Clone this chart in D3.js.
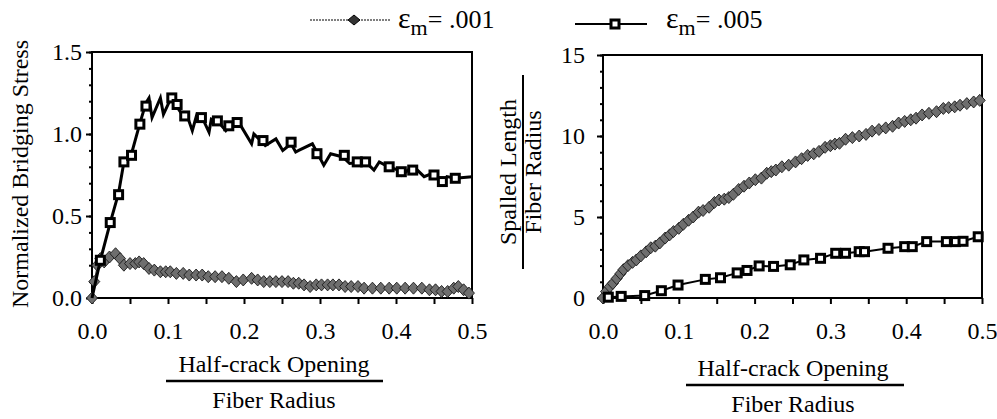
<!DOCTYPE html>
<html>
<head>
<meta charset="utf-8">
<script src="https://cdn.jsdelivr.net/npm/d3@7"></script>
<style>
body{margin:0;background:#fff}
</style>
</head>
<body>
<svg id="chart" width="997" height="419"></svg>
<script>
// left panel: normalized bridging stress, eps_m = .005 (line with sawtooth) and its square markers
const stressLine005 = [[0,0],[0.011,0.23],[0.024,0.46],[0.035,0.64],[0.042,0.83],[0.052,0.88],[0.063,1.065],[0.071,1.19],[0.075,1.22],[0.079,1.10],[0.090,1.22],[0.094,1.12],[0.105,1.23],[0.111,1.17],[0.120,1.11],[0.126,1.10],[0.132,1.02],[0.138,1.12],[0.144,1.11],[0.154,1.01],[0.157,1.09],[0.167,1.07],[0.176,1.02],[0.181,1.05],[0.192,1.08],[0.210,0.94],[0.213,1.00],[0.222,0.96],[0.228,0.93],[0.242,0.97],[0.251,0.90],[0.262,0.94],[0.268,0.89],[0.272,0.90],[0.290,0.94],[0.305,0.81],[0.314,0.88],[0.330,0.86],[0.339,0.82],[0.360,0.83],[0.371,0.78],[0.378,0.83],[0.390,0.80],[0.403,0.78],[0.408,0.75],[0.416,0.78],[0.428,0.78],[0.437,0.74],[0.448,0.76],[0.454,0.73],[0.461,0.70],[0.467,0.74],[0.478,0.73],[0.5,0.74]]
const stressMarks005 = [[0.011,0.23],[0.024,0.46],[0.035,0.63],[0.042,0.83],[0.052,0.87],[0.063,1.06],[0.071,1.17],[0.105,1.22],[0.112,1.18],[0.122,1.11],[0.144,1.10],[0.165,1.08],[0.180,1.05],[0.191,1.07],[0.225,0.96],[0.262,0.95],[0.296,0.88],[0.332,0.87],[0.349,0.83],[0.360,0.83],[0.391,0.80],[0.407,0.77],[0.422,0.78],[0.450,0.75],[0.461,0.71],[0.478,0.73]]
// left panel, eps_m = .001 (diamonds)
const stress001 = [[0,0],[0.003,0.10],[0.007,0.20],[0.011,0.24],[0.016,0.22],[0.023,0.25],[0.031,0.27],[0.037,0.24],[0.042,0.20],[0.050,0.21],[0.057,0.21],[0.062,0.22],[0.068,0.21],[0.075,0.18],[0.082,0.17],[0.090,0.16],[0.097,0.16],[0.103,0.16],[0.111,0.15],[0.120,0.15],[0.128,0.14],[0.137,0.14],[0.145,0.14],[0.153,0.13],[0.162,0.13],[0.171,0.13],[0.180,0.12],[0.190,0.10],[0.199,0.11],[0.210,0.12],[0.218,0.11],[0.226,0.10],[0.234,0.10],[0.242,0.10],[0.250,0.10],[0.258,0.10],[0.265,0.09],[0.272,0.09],[0.279,0.08],[0.287,0.07],[0.295,0.08],[0.302,0.08],[0.310,0.08],[0.317,0.08],[0.325,0.08],[0.333,0.07],[0.341,0.07],[0.350,0.07],[0.358,0.06],[0.369,0.06],[0.380,0.06],[0.391,0.06],[0.401,0.06],[0.412,0.06],[0.423,0.06],[0.434,0.06],[0.444,0.05],[0.452,0.05],[0.460,0.04],[0.468,0.04],[0.476,0.06],[0.482,0.07],[0.489,0.05],[0.496,0.03]]

// right panel: spalled length / fiber radius
const spall001 = [[0,0],[0.004,0.4],[0.009,0.7],[0.013,0.9],[0.018,1.2],[0.023,1.5],[0.027,1.75],[0.033,2.0],[0.039,2.2],[0.044,2.35],[0.050,2.6],[0.057,2.85],[0.063,3.1],[0.069,3.2],[0.075,3.4],[0.082,3.7],[0.088,3.9],[0.093,4.1],[0.100,4.3],[0.106,4.55],[0.113,4.8],[0.119,5.0],[0.126,5.3],[0.132,5.4],[0.140,5.6],[0.147,5.9],[0.153,6.05],[0.160,6.1],[0.166,6.2],[0.172,6.4],[0.179,6.7],[0.186,6.9],[0.193,7.1],[0.201,7.3],[0.209,7.4],[0.216,7.7],[0.222,7.8],[0.228,7.9],[0.236,8.1],[0.245,8.2],[0.254,8.4],[0.262,8.6],[0.270,8.8],[0.278,8.9],[0.285,9.05],[0.293,9.3],[0.300,9.4],[0.306,9.5],[0.312,9.55],[0.320,9.8],[0.329,9.9],[0.338,10.0],[0.347,10.1],[0.355,10.3],[0.364,10.4],[0.373,10.5],[0.382,10.6],[0.390,10.8],[0.398,10.9],[0.406,11.0],[0.413,11.1],[0.421,11.3],[0.430,11.4],[0.440,11.5],[0.449,11.7],[0.456,11.75],[0.464,11.8],[0.471,11.9],[0.480,12.0],[0.489,12.1],[0.497,12.2]]
const spall005 = [[0,0],[0.007,0.05],[0.024,0.1],[0.055,0.15],[0.077,0.45],[0.099,0.8],[0.135,1.15],[0.155,1.25],[0.177,1.55],[0.190,1.7],[0.206,1.98],[0.225,1.95],[0.247,2.05],[0.265,2.35],[0.287,2.45],[0.307,2.76],[0.320,2.76],[0.338,2.86],[0.345,2.86],[0.376,3.07],[0.398,3.17],[0.408,3.17],[0.427,3.48],[0.453,3.48],[0.465,3.48],[0.475,3.5],[0.495,3.78]]

const xTicks = [0, 0.1, 0.2, 0.3, 0.4, 0.5]
const stressTicks = [0, 0.5, 1.0, 1.5]
const spallTicks = [0, 5, 10, 15]

const FONT = "Liberation Serif, Tinos, Noto Serif, DejaVu Serif, FreeSerif, Times New Roman, Times, serif"
const svg = d3.select("#chart")

function panel(box, yMax, yTicks, yFmt, yMinorStep, yPad)
{
    let x = d3.scaleLinear().domain([0, 0.5]).range([box.left, box.right])
    let y = d3.scaleLinear().domain([0, yMax]).range([box.bottom, box.top])
    let g = svg.append("g")

    // frame
    g.append("rect")
        .attr("x", box.left).attr("y", box.top)
        .attr("width", box.right - box.left).attr("height", box.bottom - box.top)
        .attr("fill", "none").attr("stroke", "#000").attr("stroke-width", 2)

    // x axis, ticks every 0.05 hanging below
    let xAx = g.append("g").attr("transform", `translate(0,${box.bottom})`)
        .call(d3.axisBottom(x).tickValues(d3.range(0, 0.501, 0.05)).tickSize(6).tickFormat(""))
    xAx.select(".domain").remove()
    xAx.selectAll("line").attr("stroke-width", 2)
    g.append("g").attr("transform", `translate(0,${box.bottom})`)
        .call(d3.axisBottom(x).tickValues(xTicks).tickSize(0).tickPadding(24).tickFormat(d3.format(".1f")))
        .call(a => a.select(".domain").remove())
        .attr("font-family", FONT).attr("font-size", 24)
        .selectAll("text").attr("fill", "#000")

    // y axis: minor and major ticks
    let yMin = g.append("g").attr("transform", `translate(${box.left},0)`)
        .call(d3.axisLeft(y).tickValues(d3.range(0, yMax + 1e-9, yMinorStep)).tickSize(3).tickFormat(""))
    yMin.select(".domain").remove()
    yMin.selectAll("line").attr("stroke-width", 2)
    let yMaj = g.append("g").attr("transform", `translate(${box.left},0)`)
        .call(d3.axisLeft(y).tickValues(yTicks).tickSize(6).tickPadding(yPad).tickFormat(yFmt))
        .attr("font-family", FONT).attr("font-size", 24)
    yMaj.select(".domain").remove()
    yMaj.selectAll("line").attr("stroke-width", 2)
    yMaj.selectAll("text").attr("fill", "#000")

    return {x, y, g}
}

function drawSquares(p, data, lineWidth)
{
    p.g.append("path").datum(data)
        .attr("fill", "none").attr("stroke", "#000").attr("stroke-width", lineWidth)
        .attr("stroke-linejoin", "miter")
        .attr("d", d3.line().x(d => p.x(d[0])).y(d => p.y(d[1])))
}
function squareMarks(p, data)
{
    p.g.selectAll(null).data(data).enter().append("rect")
        .attr("x", d => p.x(d[0]) - 4).attr("y", d => p.y(d[1]) - 4)
        .attr("width", 8).attr("height", 8)
        .attr("fill", "#fff").attr("stroke", "#000").attr("stroke-width", 3)
}
function diamonds(p, data)
{
    p.g.append("path").datum(data)
        .attr("fill", "none").attr("stroke", "#222").attr("stroke-width", 1)
        .attr("d", d3.line().x(d => p.x(d[0])).y(d => p.y(d[1])))
    p.g.selectAll(null).data(data).enter().append("path")
        .attr("transform", d => `translate(${p.x(d[0])},${p.y(d[1])})`)
        .attr("d", "M0,-6L5.5,0L0,6L-5.5,0Z")
        .attr("fill", "#6e6e6e").attr("stroke", "#1a1a1a").attr("stroke-width", 0.9)
}

// left panel
let L = panel({left: 92, right: 472, top: 52, bottom: 298}, 1.5, stressTicks, d3.format(".1f"), 0.1, 4)
diamonds(L, stress001)
drawSquares(L, stressLine005, 3)
squareMarks(L, stressMarks005)

// right panel
let R = panel({left: 603, right: 982, top: 55, bottom: 298}, 15, spallTicks, d3.format("d"), 1, 12)
diamonds(R, spall001)
drawSquares(R, spall005, 2)
squareMarks(R, spall005.slice(1))

// text helper
function label(sel)
{
    return sel.attr("font-family", FONT).attr("font-size", 24).attr("fill", "#000")
}

// axis titles
label(svg.append("text")).attr("transform", "translate(28,174) rotate(-90)")
    .attr("text-anchor", "middle").text("Normalized Bridging Stress")

svg.append("g").attr("transform", "translate(520,172) rotate(-90)")
    .call(t => {
        label(t.append("text")).attr("text-anchor", "middle").attr("y", -4).text("Spalled Length")
        t.append("line").attr("x1", -97).attr("x2", 97).attr("y1", 3).attr("y2", 3).attr("stroke", "#000").attr("stroke-width", 2)
        label(t.append("text")).attr("text-anchor", "middle").attr("y", 21).text("Fiber Radius")
    })

function fracLabel(cx, y0, x1, x2)
{
    label(svg.append("text")).attr("x", cx).attr("y", y0).attr("text-anchor", "middle").text("Half-crack Opening")
    svg.append("line").attr("x1", x1).attr("x2", x2).attr("y1", y0 + 9).attr("y2", y0 + 9).attr("stroke", "#000").attr("stroke-width", 2.5)
    label(svg.append("text")).attr("x", cx).attr("y", y0 + 36).attr("text-anchor", "middle").text("Fiber Radius")
}
fracLabel(274, 372, 166, 383)
fracLabel(793, 376, 686, 904)

// legend
function legendItem(x1, x2, ly, tx, kind, txt)
{
    let lg = svg.append("g")
    lg.append("line").attr("x1", x1).attr("x2", x2).attr("y1", ly).attr("y2", ly)
        .attr("stroke", "#000").attr("stroke-width", kind == "d" ? 1.2 : 2)
        .attr("stroke-dasharray", kind == "d" ? "2,1" : null)
    let mx = (x1 + x2) / 2 + 4
    if (kind == "d") {
        lg.append("path").attr("transform", `translate(${mx},${ly})`).attr("d", "M0,-5L6,0L0,5L-6,0Z")
            .attr("fill", "#333").attr("stroke", "#000")
    } else {
        lg.append("rect").attr("x", mx - 4).attr("y", ly - 4).attr("width", 8).attr("height", 8)
            .attr("fill", "#fff").attr("stroke", "#000").attr("stroke-width", 3)
    }
    let t = label(lg.append("text")).attr("x", tx).attr("y", 28).attr("font-size", 26)
    t.append("tspan").attr("font-size", 30).text("ε")
    t.append("tspan").attr("dy", 7).attr("font-size", 22).text("m")
    t.append("tspan").attr("dy", -7).text("= " + txt)
}
legendItem(310, 390, 20, 398, "d", ".001")
legendItem(575, 647, 24, 666, "s", ".005")
</script>
</body>
</html>
